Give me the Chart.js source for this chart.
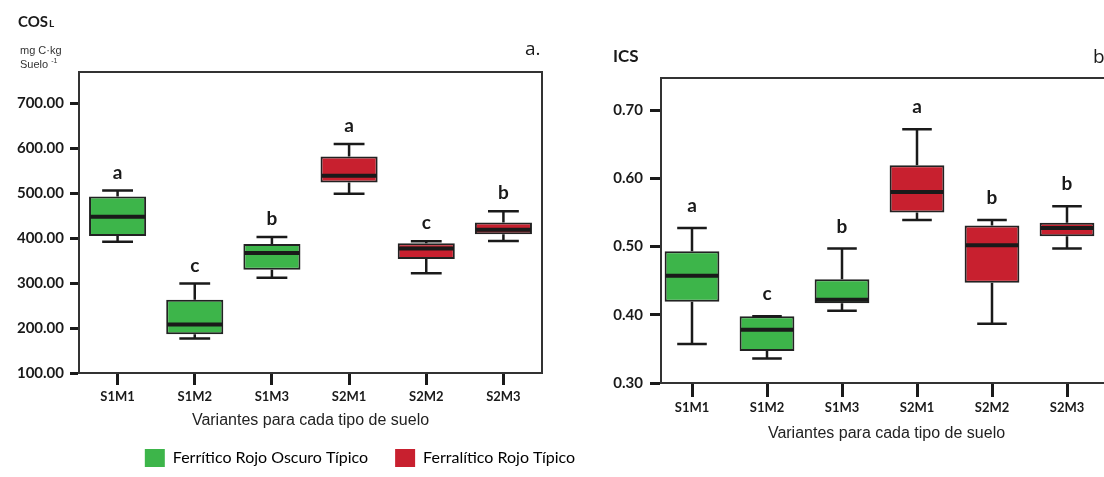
<!DOCTYPE html>
<html>
<head>
<meta charset="utf-8">
<script src="https://cdn.jsdelivr.net/npm/chart.js@4.4.0/dist/chart.umd.min.js"></script>
<style>
  body { margin: 0; width: 1104px; height: 477px; overflow: hidden; background: #fff; position: relative; }
  canvas { position: absolute; top: 0; }
</style>
</head>
<body>
<canvas id="cos" width="720" height="477" style="left:0"></canvas>
<canvas id="ics" width="560" height="477" style="left:560px"></canvas>
<script>
const variantes = ['S1M1', 'S1M2', 'S1M3', 'S2M1', 'S2M2', 'S2M3'];
const suelos = ['Ferrítico Rojo Oscuro Típico', 'Ferralítico Rojo Típico'];

// a. COSL (mg C kg suelo-1)
const cosMin = [392, 177, 312, 499, 322, 394];
const cosQ1  = [405, 186, 330, 524, 354, 409];
const cosMed = [448, 208, 367, 539, 377, 419];
const cosQ3  = [493, 263, 387, 582, 389, 435];
const cosMax = [506, 299, 403, 610, 393, 460];
const cosLetras = ['a', 'c', 'b', 'a', 'c', 'b'];
const cosTicks = [100, 200, 300, 400, 500, 600, 700];

// b. ICS
const icsMin = [0.357, 0.336, 0.406, 0.539, 0.387, 0.497];
const icsQ1  = [0.419, 0.347, 0.417, 0.550, 0.447, 0.515];
const icsMed = [0.457, 0.378, 0.422, 0.580, 0.502, 0.527];
const icsQ3  = [0.493, 0.398, 0.452, 0.619, 0.531, 0.535];
const icsMax = [0.527, 0.398, 0.497, 0.672, 0.539, 0.559];
const icsLetras = ['a', 'c', 'b', 'a', 'b', 'b'];
const icsTicks = [0.3, 0.4, 0.5, 0.6, 0.7];

const verde = '#3db54a';
const rojo = '#c8202f';
const negro = '#1a1a1a';

Chart.defaults.font.family = 'Lato';
Chart.defaults.color = negro;

// cajas flotantes q1-q3, una serie por tipo de suelo
function cajas(q1, q3, pref) {
  const out = [];
  variantes.forEach((v, i) => {
    if (v.startsWith(pref)) out.push({ x: i + 1, y: [q1[i], q3[i]] });
  });
  return out;
}

function series(q1, q3, pct) {
  return [
    { label: suelos[0], data: cajas(q1, q3, 'S1'), backgroundColor: verde },
    { label: suelos[1], data: cajas(q1, q3, 'S2'), backgroundColor: rojo }
  ].map(d => Object.assign(d, {
    borderColor: '#222', borderWidth: 2, borderSkipped: false,
    grouped: false, categoryPercentage: 1, barPercentage: pct
  }));
}

// bigotes, mediana y letras
const bigotes = {
  id: 'bigotes',
  afterDatasetsDraw(chart, args, o) {
    const ctx = chart.ctx, y = chart.scales.y;
    ctx.save();
    ctx.strokeStyle = negro;
    chart.data.datasets.forEach((ds, d) => {
      chart.getDatasetMeta(d).data.forEach((el, j) => {
        const i = ds.data[j].x - 1;
        const cx = el.x, hw = el.width / 2, cap = el.width * 0.27;
        const pMin = y.getPixelForValue(o.min[i]);
        const pMax = y.getPixelForValue(o.max[i]);
        const pQ1 = y.getPixelForValue(o.q1[i]);
        const pQ3 = y.getPixelForValue(o.q3[i]);
        const pMed = y.getPixelForValue(o.med[i]);
        ctx.lineWidth = 2.5;
        ctx.beginPath();
        ctx.moveTo(cx, pQ3); ctx.lineTo(cx, pMax);
        ctx.moveTo(cx - cap, pMax); ctx.lineTo(cx + cap, pMax);
        ctx.moveTo(cx, pQ1); ctx.lineTo(cx, pMin);
        ctx.moveTo(cx - cap, pMin); ctx.lineTo(cx + cap, pMin);
        ctx.stroke();
        ctx.lineWidth = 4;
        ctx.beginPath();
        ctx.moveTo(cx - hw + 1, pMed); ctx.lineTo(cx + hw - 1, pMed);
        ctx.stroke();
        ctx.fillStyle = negro;
        ctx.font = 'bold 19px Lato';
        ctx.textAlign = 'center';
        ctx.textBaseline = 'alphabetic';
        ctx.fillText(o.letras[i], cx, pMax - o.desfase);
      });
    });
    ctx.restore();
  }
};

// marco superior y derecho
const marco = {
  id: 'marco',
  afterDraw(chart) {
    const { ctx, chartArea: a } = chart;
    ctx.save();
    ctx.strokeStyle = '#333';
    ctx.lineWidth = 2;
    ctx.beginPath();
    ctx.moveTo(a.left, a.top); ctx.lineTo(a.right, a.top); ctx.lineTo(a.right, a.bottom);
    ctx.stroke();
    ctx.restore();
  }
};

function ejeX(cfg) {
  return {
    type: 'linear', min: cfg.min, max: cfg.max, offset: false,
    afterBuildTicks: s => { s.ticks = variantes.map((v, i) => ({ value: i + 1 })); },
    afterFit: s => { s.height = cfg.alto; },
    grid: { display: true, offset: false, drawOnChartArea: false, drawTicks: true, tickLength: cfg.tick, tickWidth: 3, tickColor: negro },
    border: { display: true, color: '#333', width: 2 },
    ticks: { callback: v => variantes[v - 1], font: { size: 13, weight: 'bold' }, padding: cfg.pad, maxRotation: 0, autoSkip: false },
    title: { display: true, text: 'Variantes para cada tipo de suelo', color: '#222',
      font: { family: 'Liberation Sans', size: 16 }, padding: { top: 0, bottom: cfg.tpad } }
  };
}

function ejeY(cfg) {
  return {
    min: cfg.min, max: cfg.max,
    afterBuildTicks: s => { s.ticks = cfg.ticks.map(v => ({ value: v })); },
    afterFit: s => { s.width = cfg.ancho; },
    grid: { display: true, drawOnChartArea: false, drawTicks: true, tickLength: cfg.tick, tickWidth: 3, tickColor: negro },
    border: { display: true, color: '#333', width: 2 },
    ticks: { callback: v => v.toFixed(2), font: { size: 15, weight: 'bold' }, padding: cfg.pad }
  };
}

new Chart(document.getElementById('cos'), {
  type: 'bar',
  data: { datasets: series(cosQ1, cosQ3, 0.74) },
  options: {
    responsive: false, animation: false,
    layout: { padding: { top: 72, left: 0, right: 0, bottom: 0 } },
    scales: {
      x: ejeX({ min: 0.5, max: 6.5, alto: 49, tick: 12, pad: 4, tpad: -8 }),
      y: ejeY({ min: 100, max: 770, ticks: cosTicks, ancho: 79, tick: 9, pad: 6 }),
      yVacio: { type: 'linear', position: 'right', grid: { display: false }, border: { display: false },
        ticks: { display: false }, afterFit: s => { s.width = 178; } }
    },
    plugins: {
      tooltip: { enabled: false },
      legend: {
        position: 'bottom',
        labels: {
          boxWidth: 20, boxHeight: 18, padding: 27, color: negro, font: { size: 16, family: 'Lato' },
          generateLabels: ch => ch.data.datasets.map((d, i) => ({
            text: d.label, fillStyle: d.backgroundColor, strokeStyle: d.backgroundColor,
            lineWidth: 0, hidden: false, datasetIndex: i
          }))
        }
      },
      bigotes: { min: cosMin, q1: cosQ1, med: cosMed, q3: cosQ3, max: cosMax, letras: cosLetras, desfase: 12 }
    }
  },
  plugins: [bigotes, marco, {
    id: 'rotulosA',
    afterDraw(chart) {
      const c = chart.ctx;
      c.save();
      c.fillStyle = negro;
      c.textAlign = 'left';
      c.textBaseline = 'alphabetic';
      c.font = 'bold 15px Lato';
      c.fillText('COS', 18, 27);
      const w = c.measureText('COS').width;
      c.font = 'bold 10px Lato';
      c.fillText('L', 18 + w + 1, 27);
      c.fillStyle = '#333';
      c.font = '11px "Liberation Sans"';
      c.fillText('mg C·kg', 20, 54);
      c.fillText('Suelo', 20, 68);
      const w2 = c.measureText('Suelo ').width;
      c.font = '7px "Liberation Sans"';
      c.fillText('-1', 20 + w2, 63);
      c.fillStyle = negro;
      c.font = '19px "Open Sans"';
      c.fillText('a.', 525, 55);
      c.restore();
    }
  }]
});

new Chart(document.getElementById('ics'), {
  type: 'bar',
  data: { datasets: series(icsQ1, icsQ3, 0.73) },
  options: {
    responsive: false, animation: false,
    layout: { padding: { top: 78, left: 0, right: 8, bottom: 34 } },
    scales: {
      x: ejeX({ min: 1 - 31 / 75, max: 6.6, alto: 60, tick: 14, pad: 3, tpad: 0 }),
      y: ejeY({ min: 0.3, max: 0.747, ticks: icsTicks, ancho: 101, tick: 11, pad: 7 })
    },
    plugins: {
      tooltip: { enabled: false },
      legend: { display: false },
      bigotes: { min: icsMin, q1: icsQ1, med: icsMed, q3: icsQ3, max: icsMax, letras: icsLetras, desfase: 16 }
    }
  },
  plugins: [bigotes, marco, {
    id: 'rotulosB',
    afterDraw(chart) {
      const c = chart.ctx;
      c.save();
      c.fillStyle = negro;
      c.textAlign = 'left';
      c.textBaseline = 'alphabetic';
      c.font = 'bold 17px Lato';
      c.fillText('ICS', 53, 62);
      c.font = '19px "Open Sans"';
      c.fillText('b.', 533, 63);
      c.restore();
    }
  }]
});
</script>
</body>
</html>
